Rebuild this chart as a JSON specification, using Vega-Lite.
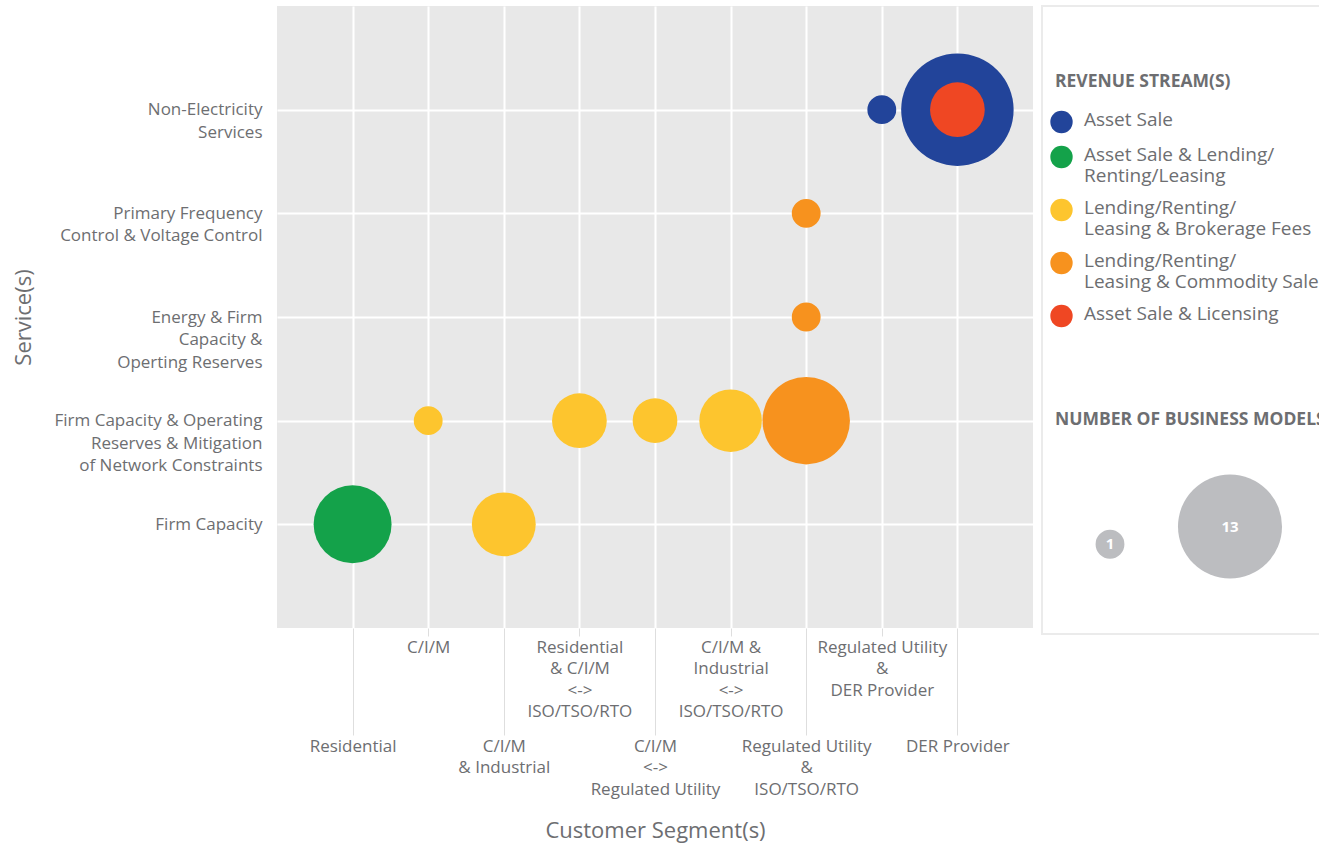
{
  "$schema": "https://vega.github.io/schema/vega-lite/v6.json",
  "padding": {"left": 12, "top": 5, "right": 0, "bottom": 5},
  "background": "white",
  "spacing": 8,
  "config": {
    "font": "Open Sans",
    "view": {"stroke": null},
    "axis": {
      "labelColor": "#6d6e71",
      "titleColor": "#6d6e71",
      "labelFont": "Open Sans",
      "titleFont": "Open Sans",
      "titleFontWeight": "normal",
      "domain": false
    },
    "legend": {
      "labelFont": "Open Sans",
      "titleFont": "Open Sans",
      "labelColor": "#6d6e71",
      "titleColor": "#6d6e71"
    }
  },
  "datasets": {
    "bubbles": [
      {"segment": "DER Provider", "service": "Non-Electricity Services", "stream": "Asset Sale", "models": 15.2},
      {"segment": "DER Provider", "service": "Non-Electricity Services", "stream": "Asset Sale & Licensing", "models": 3.6},
      {"segment": "Regulated Utility & DER Provider", "service": "Non-Electricity Services", "stream": "Asset Sale", "models": 1},
      {"segment": "Regulated Utility & ISO/TSO/RTO", "service": "Primary Frequency Control & Voltage Control", "stream": "Lending/Renting/Leasing & Commodity Sale", "models": 1},
      {"segment": "Regulated Utility & ISO/TSO/RTO", "service": "Energy & Firm Capacity & Operting Reserves", "stream": "Lending/Renting/Leasing & Commodity Sale", "models": 1},
      {"segment": "C/I/M", "service": "Firm Capacity & Operating Reserves & Mitigation of Network Constraints", "stream": "Lending/Renting/Leasing & Brokerage Fees", "models": 1},
      {"segment": "Residential & C/I/M <-> ISO/TSO/RTO", "service": "Firm Capacity & Operating Reserves & Mitigation of Network Constraints", "stream": "Lending/Renting/Leasing & Brokerage Fees", "models": 3.6},
      {"segment": "C/I/M <-> Regulated Utility", "service": "Firm Capacity & Operating Reserves & Mitigation of Network Constraints", "stream": "Lending/Renting/Leasing & Brokerage Fees", "models": 2.4},
      {"segment": "C/I/M & Industrial <-> ISO/TSO/RTO", "service": "Firm Capacity & Operating Reserves & Mitigation of Network Constraints", "stream": "Lending/Renting/Leasing & Brokerage Fees", "models": 4.7},
      {"segment": "Regulated Utility & ISO/TSO/RTO", "service": "Firm Capacity & Operating Reserves & Mitigation of Network Constraints", "stream": "Lending/Renting/Leasing & Commodity Sale", "models": 9.2},
      {"segment": "Residential", "service": "Firm Capacity", "stream": "Asset Sale & Lending/Renting/Leasing", "models": 7.3},
      {"segment": "C/I/M & Industrial", "service": "Firm Capacity", "stream": "Lending/Renting/Leasing & Brokerage Fees", "models": 4.9}
    ]
  },
  "hconcat": [
    {
      "width": 756,
      "height": 622,
      "view": {"fill": "#e8e8e8", "stroke": null},
      "data": {"name": "bubbles"},
      "mark": {"type": "circle", "opacity": 1},
      "encoding": {
        "x": {
          "field": "segment",
          "type": "nominal",
          "scale": {
            "type": "point",
            "padding": 1,
            "domain": ["Residential", "C/I/M", "C/I/M & Industrial", "Residential & C/I/M <-> ISO/TSO/RTO", "C/I/M <-> Regulated Utility", "C/I/M & Industrial <-> ISO/TSO/RTO", "Regulated Utility & ISO/TSO/RTO", "Regulated Utility & DER Provider", "DER Provider"]
          },
          "axis": {
            "title": "Customer Segment(s)",
            "titleFontSize": 22,
            "titlePadding": 23,
            "labelAngle": 0,
            "labelFontSize": 17,
            "labelAlign": "center",
            "labelBaseline": "top",
            "labelLineHeight": 21.5,
            "labelOverlap": false,
            "labelLimit": 0,
            "labelPadding": 3,
            "grid": true,
            "gridColor": "white",
            "gridWidth": 2,
            "ticks": true,
            "tickColor": "#dedede",
            "tickWidth": 1,
            "tickSize": {
              "condition": {"test": "datum.value == 'Residential' || datum.value == 'C/I/M & Industrial' || datum.value == 'C/I/M <-> Regulated Utility' || datum.value == 'Regulated Utility & ISO/TSO/RTO' || datum.value == 'DER Provider'", "value": 107},
              "value": 8
            },
            "labelExpr": "datum.value == 'C/I/M & Industrial' ? ['C/I/M', '& Industrial'] : datum.value == 'Residential & C/I/M <-> ISO/TSO/RTO' ? ['Residential', '& C/I/M', '<->', 'ISO/TSO/RTO'] : datum.value == 'C/I/M <-> Regulated Utility' ? ['C/I/M', '<->', 'Regulated Utility'] : datum.value == 'C/I/M & Industrial <-> ISO/TSO/RTO' ? ['C/I/M &', 'Industrial', '<->', 'ISO/TSO/RTO'] : datum.value == 'Regulated Utility & ISO/TSO/RTO' ? ['Regulated Utility', '&', 'ISO/TSO/RTO'] : datum.value == 'Regulated Utility & DER Provider' ? ['Regulated Utility', '&', 'DER Provider'] : datum.label"
          }
        },
        "y": {
          "field": "service",
          "type": "nominal",
          "scale": {
            "type": "point",
            "padding": 1,
            "domain": ["Non-Electricity Services", "Primary Frequency Control & Voltage Control", "Energy & Firm Capacity & Operting Reserves", "Firm Capacity & Operating Reserves & Mitigation of Network Constraints", "Firm Capacity"]
          },
          "axis": {
            "title": "Service(s)",
            "titleFontSize": 22,
            "titlePadding": 42,
            "labelFontSize": 17,
            "labelLineHeight": 22.5,
            "labelAlign": "right",
            "labelBaseline": "middle",
            "labelPadding": 15,
            "labelLimit": 0,
            "ticks": false,
            "grid": true,
            "gridColor": "white",
            "gridWidth": 2,
            "labelExpr": "datum.value == 'Non-Electricity Services' ? ['Non-Electricity', 'Services'] : datum.value == 'Primary Frequency Control & Voltage Control' ? ['Primary Frequency', 'Control & Voltage Control'] : datum.value == 'Energy & Firm Capacity & Operting Reserves' ? ['Energy & Firm', 'Capacity & ', 'Operting Reserves'] : datum.value == 'Firm Capacity & Operating Reserves & Mitigation of Network Constraints' ? ['Firm Capacity & Operating', 'Reserves & Mitigation ', 'of Network Constraints'] : datum.label"
          }
        },
        "size": {
          "field": "models",
          "type": "quantitative",
          "scale": {"domain": [0, 13], "range": [0, 10816]},
          "legend": {
            "title": "NUMBER OF BUSINESS MODELS",
            "orient": "none",
            "legendX": 773,
            "legendY": 405,
            "direction": "horizontal",
            "columns": 2,
            "values": [1, 13],
            "columnPadding": 53,
            "titleFontSize": 17.5,
            "titleFontWeight": "bold",
            "titleLimit": 0,
            "titlePadding": 46,
            "symbolType": "circle",
            "symbolFillColor": "#bcbdc0",
            "symbolStrokeWidth": 0,
            "symbolOpacity": 1,
            "labelColor": "white",
            "labelFontWeight": "bold",
            "labelFontSize": 15,
            "labelAlign": "center",
            "labelBaseline": "middle",
            "encode": {
              "symbols": {"update": {"fill": {"value": "#bcbdc0"}, "opacity": {"value": 1}, "x": {"signal": "datum.value == 1 ? 60 : 52"}, "y": {"signal": "datum.value == 1 ? 50 : 52"}}},
              "labels": {"update": {"x": {"signal": "datum.value == 1 ? 60 : 52"}, "y": {"signal": "datum.value == 1 ? 50 : 52"}}},
              "title": {"update": {"dx": {"value": 5}}}
            }
          }
        },
        "color": {
          "field": "stream",
          "type": "nominal",
          "scale": {
            "domain": ["Asset Sale", "Asset Sale & Lending/Renting/Leasing", "Lending/Renting/Leasing & Brokerage Fees", "Lending/Renting/Leasing & Commodity Sale", "Asset Sale & Licensing"],
            "range": ["#22449a", "#14a24a", "#fdc52e", "#f7921e", "#ef4723"]
          },
          "legend": {
            "title": "REVENUE STREAM(S)",
            "orient": "none",
            "legendX": 773,
            "legendY": 67,
            "titleFontSize": 17.5,
            "titleFontWeight": "bold",
            "titlePadding": 20,
            "labelFontSize": 19,
            "labelLimit": 0,
            "labelOffset": 11,
            "labelBaseline": "top",
            "rowPadding": 12,
            "symbolType": "circle",
            "symbolSize": 500,
            "symbolStrokeWidth": 0,
            "symbolOpacity": 1,
            "labelExpr": "datum.label == 'Asset Sale & Lending/Renting/Leasing' ? ['Asset Sale & Lending/', 'Renting/Leasing'] : datum.label == 'Lending/Renting/Leasing & Brokerage Fees' ? ['Lending/Renting/', 'Leasing & Brokerage Fees'] : datum.label == 'Lending/Renting/Leasing & Commodity Sale' ? ['Lending/Renting/', 'Leasing & Commodity Sale'] : datum.label",
            "encode": {
              "labels": {"update": {"dy": {"value": -11}, "lineHeight": {"value": 21}}},
              "title": {"update": {"dx": {"value": 5}}}
            }
          }
        },
        "order": {"field": "models", "sort": "descending"}
      }
    },
    {
      "width": 285,
      "height": 628,
      "view": {"fill": "white", "stroke": "#ebebeb", "strokeWidth": 2},
      "data": {"values": []},
      "mark": "point"
    }
  ]
}
